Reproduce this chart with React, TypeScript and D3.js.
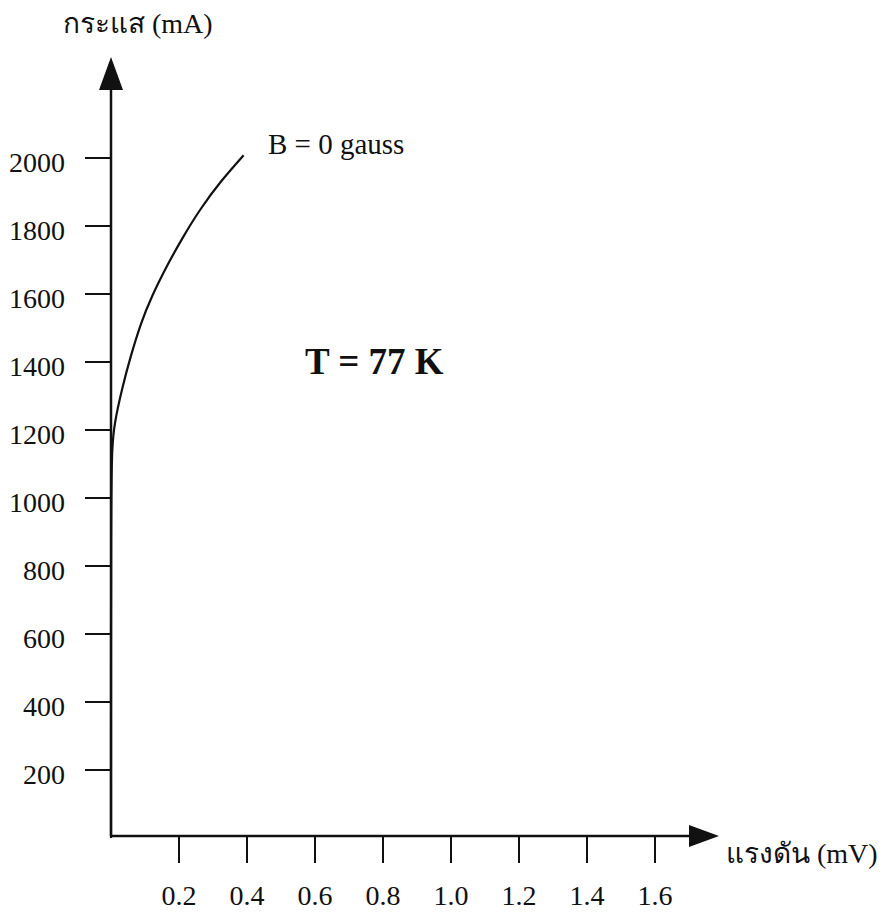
import React from 'react';
import * as d3 from 'd3';

// current (mA) ticks and voltage (mV) ticks
const yTicks = [200, 400, 600, 800, 1000, 1200, 1400, 1600, 1800, 2000];
const xTicks = [0.2, 0.4, 0.6, 0.8, 1.0, 1.2, 1.4, 1.6];
const xTickLabels = ['0.2', '0.4', '0.6', '0.8', '1.0', '1.2', '1.4', '1.6'];

// B = 0 gauss curve
const voltage = [0, 0, 0.003, 0.01, 0.032, 0.057, 0.088, 0.118, 0.168, 0.21, 0.262, 0.325, 0.39];
const current = [0, 1000, 1150, 1220, 1320, 1415, 1515, 1590, 1690, 1765, 1850, 1935, 2008];

const W = 888;
const H = 914;
const serif = '"Liberation Serif", "Times New Roman", serif';

export default function App() {
  const x = d3.scaleLinear().domain([0, 1.6]).range([111, 655]);
  const y = d3.scaleLinear().domain([0, 2000]).range([838, 158]);

  const x0 = x(0);
  const y0 = 836;

  const pts: [number, number][] = voltage.map((v, i) => [v, current[i]]);
  const line = d3
    .line<[number, number]>()
    .x((d) => x(d[0]))
    .y((d) => y(d[1]))
    .curve(d3.curveBasis);

  return (
    <svg
      width={W}
      height={H}
      style={{ position: 'absolute', left: 0, top: 0, background: '#fff' }}
    >
      <rect width={W} height={H} fill="#fff" />
      {/* y axis */}
      <line x1={x0} y1={y0} x2={x0} y2={88} stroke="#111" strokeWidth={2.5} />
      <path d={`M${x0},57 L${x0 - 12},90 L${x0 + 12},90 Z`} fill="#111" />
      {/* x axis */}
      <line x1={x0 - 1} y1={y0} x2={692} y2={y0} stroke="#111" strokeWidth={2.5} />
      <path d={`M719,${y0} L689,${y0 - 11} L689,${y0 + 11} Z`} fill="#111" />

      {yTicks.map((t) => (
        <g key={t}>
          <line x1={x0 - 26} y1={y(t)} x2={x0} y2={y(t)} stroke="#111" strokeWidth={2} />
          <text
            x={65}
            y={y(t) + 14}
            textAnchor="end"
            fontFamily={serif}
            fontSize={28}
            fill="#111"
          >
            {t}
          </text>
        </g>
      ))}

      {xTicks.map((t, i) => (
        <g key={t}>
          <line x1={x(t)} y1={y0} x2={x(t)} y2={y0 + 27} stroke="#111" strokeWidth={2} />
          <text
            x={x(t)}
            y={905}
            textAnchor="middle"
            fontFamily={serif}
            fontSize={28}
            fill="#111"
          >
            {xTickLabels[i]}
          </text>
        </g>
      ))}

      <path d={line(pts) ?? ''} fill="none" stroke="#111" strokeWidth={2.2} />

      <text x={63} y={33} fontFamily={serif} fontSize={28} fill="#111">
        กระแส (mA)
      </text>
      <text x={726} y={863} fontFamily={serif} fontSize={28} fill="#111">
        แรงดัน (mV)
      </text>
      <text x={268} y={154} fontFamily={serif} fontSize={29} fill="#111">
        B = 0 gauss
      </text>
      <text x={305} y={374} fontFamily={serif} fontSize={37} fontWeight="bold" fill="#111">
        T = 77 K
      </text>
    </svg>
  );
}
